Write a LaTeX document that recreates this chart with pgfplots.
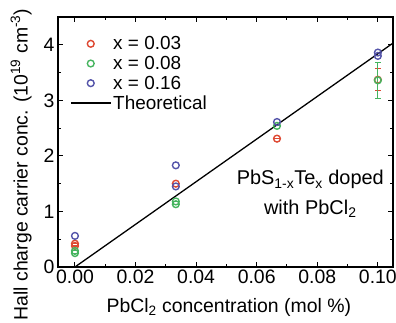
\documentclass[border=0pt]{standalone}
\usepackage{fontspec}
\setmainfont{Liberation Sans}
\usepackage{pgfplots}
\pgfplotsset{compat=1.18}
\definecolor{cred}{RGB}{222,72,50}
\definecolor{cgreen}{RGB}{70,180,95}
\definecolor{cblue}{RGB}{85,85,170}
\pgfplotsset{
  marklegend/.style={legend image code/.code={\draw[mark repeat=2,mark phase=2,##1] plot coordinates {(0cm,0cm)(0.7cm,0cm)(1.4cm,0cm)};}},
  linelegend/.style={legend image code/.code={\draw[##1] (0cm,0cm) -- (1.4cm,0cm);}},
}
\begin{document}
\begin{tikzpicture}
\begin{axis}[
  scale only axis,
  width=335bp, height=250bp,
  xmin=-0.0056, xmax=0.105,
  ymin=0, ymax=4.5,
  xtick={0,0.02,0.04,0.06,0.08,0.10},
  xticklabels={0.00,0.02,0.04,0.06,0.08,0.10},
  ytick={0,1,2,3,4},
  minor x tick num=1,
  minor y tick num=1,
  tick align=inside,
  major tick length=5bp,
  minor tick length=3bp,
  axis line style={line width=1.2pt},
  every tick/.style={line width=1pt,black},
  /pgf/number format/assume math mode=true,
  tick label style={font=\fontsize{19.5}{21}\selectfont},
  xticklabel style={yshift=1bp},
  xlabel={PbCl\textsubscript{2} concentration (mol \%)},
  ylabel={Hall charge carrier conc. (10\textsuperscript{19} cm\textsuperscript{-3})},
  every axis x label/.style={at={(axis description cs:0.51,-0.162)}, anchor=center,
    font=\fontsize{19.5}{21}\selectfont},
  every axis y label/.style={at={(axis description cs:-0.11,0.41)}, anchor=center, rotate=90,
    font=\fontsize{19.5}{21}\selectfont},
  legend style={draw=none, fill=none, at={(0.033,0.935)}, anchor=north west,
    font=\fontsize{19}{20}\selectfont, row sep=1bp, inner sep=1bp},
  legend cell align=left,
  clip=false,
]
\addplot[only marks, mark=o, mark size=3.4bp, line width=1.4pt, color=cred, marklegend,
  error bars/.cd, y dir=both, y explicit,
  error bar style={line width=1pt}, error mark options={rotate=90, mark size=3bp, line width=1pt}]
  coordinates {(0,0.38) +- (0,0) (0,0.42) +- (0,0) (0.0333,1.50) +- (0,0) (0.0667,2.31) +- (0,0) (0.1,3.37) +- (0,0.2)};
\addlegendentry{x = 0.03}
\addplot[only marks, mark=o, mark size=3.4bp, line width=1.4pt, color=cgreen, marklegend,
  error bars/.cd, y dir=both, y explicit,
  error bar style={line width=1pt}, error mark options={rotate=90, mark size=3bp, line width=1pt}]
  coordinates {(0,0.25) +- (0,0) (0,0.29) +- (0,0) (0.0333,1.13) +- (0,0) (0.0333,1.18) +- (0,0) (0.0667,2.54) +- (0,0) (0.1,3.36) +- (0,0.33)};
\addlegendentry{x = 0.08}
\addplot[only marks, mark=o, mark size=3.4bp, line width=1.4pt, color=cblue, marklegend]
  coordinates {(0,0.56) (0.0333,1.83) (0.0333,1.45) (0.0667,2.61) (0.1,3.86) (0.1,3.80)};
\addlegendentry{x = 0.16}
\addplot[black, line width=1.3pt, linelegend]
  coordinates {(0,0) (0.105,4.03)};
\addlegendentry{Theoretical}
\node[align=center, font=\fontsize{20}{22}\selectfont] at (axis cs:0.0777,1.31)
  {PbS\textsubscript{1-x}Te\textsubscript{x} doped\\[8bp]with PbCl\textsubscript{2}};
\end{axis}
\pgfresetboundingbox
\path (-58bp,-56bp) rectangle (338bp,267bp);
\end{tikzpicture}
\end{document}
